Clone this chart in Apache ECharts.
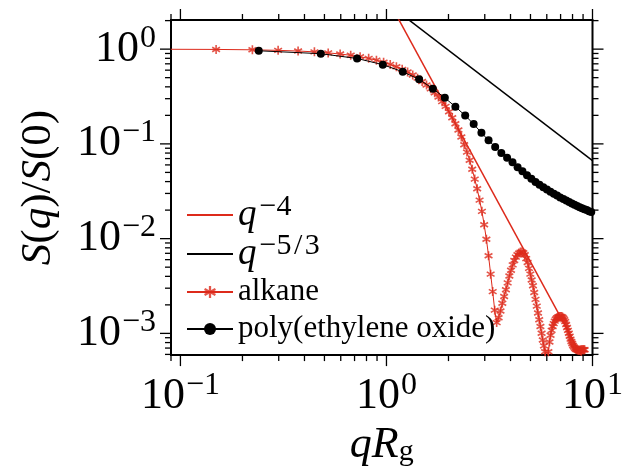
<!DOCTYPE html>
<html>
<head>
<meta charset="utf-8">
<script src="https://cdn.jsdelivr.net/npm/echarts@6/dist/echarts.min.js"></script>
<style>
    html, body {margin:0;padding:0;background:#fff;}
    #chart {width:626px;height:472px;}
</style>
</head>
<body>
<div id="chart"></div>
<script>
    // alkane, q*Rg and S(q)/S(0)
    var alkaneQ = [
        0.0745, 0.149, 0.2235, 0.298, 0.3725, 0.447, 0.5215, 0.596, 0.6705, 0.745,
        0.8195, 0.894, 0.9685, 1.043, 1.1175, 1.192, 1.2665, 1.341, 1.4155, 1.49,
        1.5645, 1.639, 1.7135, 1.788, 1.8625, 1.937, 2.0115, 2.086, 2.1605, 2.235,
        2.3095, 2.384, 2.4585, 2.533, 2.6075, 2.682, 2.7565, 2.831, 2.9055, 2.98,
        3.0545, 3.129, 3.2035, 3.278, 3.3525, 3.427, 3.5015, 3.576, 3.6505, 3.725,
        3.7995, 3.874, 3.9485, 4.023, 4.0975, 4.172, 4.2465, 4.321, 4.3955, 4.47,
        4.5445, 4.619, 4.6935, 4.768, 4.8425, 4.917, 4.9915, 5.066, 5.1405, 5.215,
        5.2895, 5.364, 5.4385, 5.513, 5.5875, 5.662, 5.7365, 5.811, 5.8855, 5.96,
        6.0345, 6.109, 6.1835, 6.258, 6.3325, 6.407, 6.4815, 6.556, 6.6305, 6.705,
        6.7795, 6.854, 6.9285, 7.003, 7.0775, 7.152, 7.2265, 7.301, 7.3755, 7.45,
        7.5245, 7.599, 7.6735, 7.748, 7.8225, 7.897, 7.9715, 8.046, 8.1205, 8.195,
        8.2695, 8.344, 8.4185, 8.493, 8.5675, 8.642, 8.7165, 8.791, 8.8655, 8.94,
        9.0145, 9.089, 9.1635
    ];
    var alkaneS = [
        0.998, 0.993, 0.984, 0.971, 0.955, 0.936, 0.913, 0.888, 0.861, 0.831,
        0.799, 0.765, 0.727, 0.690, 0.651, 0.612, 0.573, 0.534, 0.494, 0.456,
        0.418, 0.381, 0.346, 0.312, 0.279, 0.249, 0.218, 0.1885, 0.163, 0.1402,
        0.118, 0.0978, 0.0819, 0.0673, 0.054, 0.0425, 0.0336, 0.0255, 0.0194, 0.01404,
        0.00986, 0.00661, 0.00422, 0.00276, 0.00176, 0.0013, 0.001462, 0.001723, 0.00208, 0.002455,
        0.00289, 0.00341, 0.00403, 0.00464, 0.00528, 0.00587, 0.00638, 0.00676, 0.00704, 0.00721,
        0.00722, 0.00709, 0.00676, 0.00615, 0.0056, 0.00486, 0.00422, 0.00366, 0.00318, 0.0027,
        0.002287, 0.00194, 0.001644, 0.001394, 0.001182, 0.001002, 0.00085, 0.000738, 0.000641, 0.000506,
        0.000472, 0.000641, 0.000811, 0.000956, 0.001076, 0.001182, 0.001269, 0.001346, 0.001411, 0.001451,
        0.001479, 0.001496, 0.001507, 0.00151, 0.001503, 0.001486, 0.001444, 0.001394, 0.00133, 0.001239,
        0.001154, 0.001076, 0.001002, 0.000934, 0.00087, 0.00082, 0.000782, 0.000746, 0.000721, 0.000699,
        0.000684, 0.000675, 0.000671, 0.000667, 0.000664, 0.000664, 0.000667, 0.000669, 0.000671, 0.000671,
        0.000671, 0.000671, 0.000671
    ];
    // poly(ethylene oxide)
    var peoQ = [
        0.24, 0.48, 0.72, 0.96, 1.20, 1.44, 1.68, 1.92, 2.16, 2.41,
        2.65, 2.89, 3.13, 3.37, 3.61, 3.85, 4.09, 4.33, 4.57, 4.81,
        5.05, 5.29, 5.53, 5.77, 6.01, 6.25, 6.49, 6.73, 6.97, 7.22,
        7.46, 7.70, 7.94, 8.18, 8.42, 8.66, 8.90, 9.14, 9.38, 9.62, 9.86
    ];
    var peoS = [
        0.961, 0.895, 0.797, 0.686, 0.577, 0.480, 0.383, 0.306, 0.247, 0.199,
        0.1618, 0.1308, 0.1091, 0.0925, 0.0803, 0.0714, 0.0639, 0.0568, 0.0513, 0.0467,
        0.0428, 0.0396, 0.0371, 0.0349, 0.0330, 0.0313, 0.0298, 0.0285, 0.0272, 0.0262,
        0.0252, 0.0243, 0.0235, 0.0228, 0.0221, 0.0215, 0.0209, 0.0204, 0.0200, 0.0195, 0.0191
    ];
    // power law guides
    var q4Q = [1, 10];
    var q4S = [3.56, 3.56e-4];
    var q53Q = [1, 10];
    var q53S = [3.09, 0.0665];

    var xMajor = [0.1, 1, 10];
    var yMajor = [1e-3, 1e-2, 1e-1, 1];
    var minorMult = [2, 3, 4, 5, 6, 7, 8, 9];
    var xRange = [0.09, 10];
    var yRange = [5.9e-4, 2.03];

    var RED = '#dd2a1b';
    var FONT = 'Liberation Serif';
    var MINUS = '\u2212';
    // six-armed asterisk
    var STAR = 'path://M41,0L59,0L59,100L41,100Z' +
        'M11.2,82.8L2.2,67.2L88.8,17.2L97.8,32.8Z' +
        'M2.2,32.8L11.2,17.2L97.8,67.2L88.8,82.8Z';

    function pairs(xs, ys) {
        var out = [];
        for (var i = 0; i < xs.length; i++) out.push([xs[i], ys[i]]);
        return out;
    }

    function tickValues(majors, range) {
        var vals = [];
        majors.concat([majors[0] / 10]).forEach(function (m) {
            if (majors.indexOf(m) >= 0) vals.push([m, 1]);
            minorMult.forEach(function (k) {
                var v = m * k;
                if (v >= range[0] * 0.999 && v <= range[1] * 1.001) vals.push([v, 0]);
            });
        });
        return vals;
    }

    function powLabel(v) {
        var l = Math.log10(v), e = Math.round(l);
        if (Math.abs(l - e) > 1e-6) return '';
        return '{b|10}{s|' + (e < 0 ? MINUS + (-e) : e) + '}';
    }

    // base text centred in a tall line, superscript pinned to the top of it
    var labelRich = {
        b: {fontFamily: FONT, fontSize: 44, lineHeight: 54, color: '#000'},
        s: {fontFamily: FONT, fontSize: 32, lineHeight: 20, verticalAlign: 'top', padding: [0, 0, 0, 1], color: '#000'}
    };

    var legendRich = {
        i: {fontFamily: FONT, fontStyle: 'italic', fontSize: 37, lineHeight: 45, color: '#000'},
        s: {fontFamily: FONT, fontSize: 30, lineHeight: 12, verticalAlign: 'top', padding: [0, 0, 0, 3], color: '#000'},
        t: {fontFamily: FONT, fontSize: 31, lineHeight: 30, color: '#000'}
    };
    var legendNames = ['q^-4', 'q^-5/3', 'alkane', 'poly(ethylene oxide)'];
    var legendText = {
        'q^-4': '{i|q}{s|' + MINUS + '4}',
        'q^-5/3': '{i|q}{s|' + MINUS + '5\u200a/\u200a3}',
        'alkane': '{t|alkane}',
        'poly(ethylene oxide)': '{t|poly(ethylene oxide)}'
    };
    var legendCenters = [215, 254, 291.5, 328.5];
    var legendHalf = [22.5, 22.5, 15, 15];
    var lineOnly = {'q^-4': true, 'q^-5/3': true};

    var chart = echarts.init(document.getElementById('chart'));

    var xTicks = tickValues(xMajor, xRange).map(function (d) { return [d[0], 1, d[1]]; });
    var yTicks = tickValues(yMajor, yRange).map(function (d) { return [1, d[0], d[1]]; });

    function tickRender(dir) {
        return function (params, api) {
            var cs = params.coordSys;
            var major = api.value(2) === 1;
            var len = major ? 11 : 6;
            var st = {stroke: '#000', lineWidth: 1.3};
            if (dir === 'x') {
                var px = api.coord([api.value(0), 1])[0];
                var b = cs.y + cs.height;
                return {type: 'group', children: [
                    {type: 'line', shape: {x1: px, y1: b, x2: px, y2: b + len}, style: st},
                    {type: 'line', shape: {x1: px, y1: cs.y, x2: px, y2: cs.y - len}, style: st}
                ]};
            }
            var py = api.coord([1, api.value(1)])[1];
            var r = cs.x + cs.width;
            return {type: 'group', children: [
                {type: 'line', shape: {x1: cs.x, y1: py, x2: cs.x - len, y2: py}, style: st},
                {type: 'line', shape: {x1: r, y1: py, x2: r + len, y2: py}, style: st}
            ]};
        };
    }

    var option = {
        animation: false,
        backgroundColor: '#fff',
        grid: {
            show: true, borderColor: '#000', borderWidth: 2,
            left: 171, top: 20, width: 425, height: 345.5
        },
        legend: legendNames.map(function (n, i) {
            var item = {name: n};
            if (lineOnly[n]) item.itemStyle = {opacity: 0};
            return {
                data: [item], orient: 'vertical', left: 186, top: legendCenters[i] - legendHalf[i],
                padding: 0, itemWidth: 46, itemHeight: 15, itemGap: 0,
                selectedMode: false,
                formatter: function (name) { return legendText[name]; },
                textStyle: {rich: legendRich}
            };
        }),
        xAxis: {
            type: 'log', logBase: 10, min: xRange[0], max: xRange[1],
            axisLine: {show: false}, axisTick: {show: false}, splitLine: {show: false},
            axisLabel: {formatter: powLabel, rich: labelRich, margin: 14, hideOverlap: false},
            name: '{i|q}{i|R}{u|g}', nameLocation: 'middle', nameGap: 62,
            nameTextStyle: {rich: {
                i: {fontFamily: FONT, fontStyle: 'italic', fontSize: 44, lineHeight: 44, color: '#000'},
                u: {fontFamily: FONT, fontSize: 30, lineHeight: 22, verticalAlign: 'bottom', color: '#000'}
            }}
        },
        yAxis: {
            type: 'log', logBase: 10, min: yRange[0], max: yRange[1],
            axisLine: {show: false}, axisTick: {show: false}, splitLine: {show: false},
            axisLabel: {formatter: powLabel, rich: labelRich, margin: 15, hideOverlap: false},
            name: '{i|S}{r|(}{i|q}{r|)/}{i|S}{r|(0)}', nameLocation: 'middle', nameRotate: 90, nameGap: 111,
            nameTextStyle: {rich: {
                i: {fontFamily: FONT, fontStyle: 'italic', fontSize: 43, lineHeight: 43, color: '#000'},
                r: {fontFamily: FONT, fontSize: 43, lineHeight: 43, color: '#000'}
            }}
        },
        series: [
            {
                name: 'q^-4', type: 'line', data: pairs(q4Q, q4S), symbol: 'none',
                color: RED, lineStyle: {color: RED, width: 1.5}, z: 2
            },
            {
                name: 'q^-5/3', type: 'line', data: pairs(q53Q, q53S), symbol: 'none',
                color: '#000', lineStyle: {color: '#000', width: 1.5}, z: 2
            },
            {
                name: 'alkane', type: 'line', data: pairs(alkaneQ, alkaneS),
                symbol: STAR, symbolSize: 9, symbolKeepAspect: true,
                color: RED, lineStyle: {color: RED, width: 1},
                itemStyle: {color: RED, opacity: 0.8}, z: 3
            },
            {
                name: 'poly(ethylene oxide)', type: 'line', data: pairs(peoQ, peoS),
                symbol: 'circle', symbolSize: 8,
                color: '#000', lineStyle: {color: '#000', width: 1},
                itemStyle: {color: '#000'}, z: 4
            },
            {type: 'custom', silent: true, data: xTicks, renderItem: tickRender('x'), z: 5},
            {type: 'custom', silent: true, data: yTicks, renderItem: tickRender('y'), z: 5}
        ]
    };

    chart.setOption(option);
</script>
</body>
</html>
